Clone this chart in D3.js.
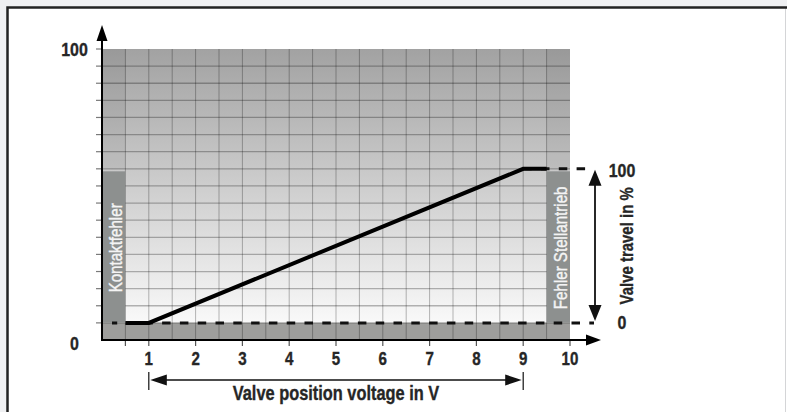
<!DOCTYPE html>
<html>
<head>
<meta charset="utf-8">
<script src="https://cdn.jsdelivr.net/npm/d3@7/dist/d3.min.js"></script>
<style>
  html, body { margin: 0; padding: 0; background: #eff0f2; }
  svg { display: block; }
  text { font-family: 'Liberation Sans', Arial, sans-serif; }
</style>
</head>
<body>
<svg id="chart" width="787" height="412"></svg>
<script>
// Voltage axis (V) and its tick labels
const voltageTicks = [1, 2, 3, 4, 5, 6, 7, 8, 9, 10];
// Valve characteristic: control voltage (V) -> valve travel (%)
const curveVoltage = [0.5, 1, 9, 9.5];
const curveTravel = [0, 0, 100, 100];
// Left axis labels (chart scale, %)
const leftAxisLabels = [0, 100];
// Right-hand travel labels (%)
const travelLabels = [0, 100];
// Fault zones at both ends of the voltage range
const faultNames = ["Kontaktfehler", "Fehler Stellantrieb"];
const faultStartV = [0, 9.5];
const faultEndV = [0.5, 10];
// Control range shown by the lower arrow (V)
const controlRange = [1, 9];
// Axis titles
const xTitle = "Valve position voltage in V";
const yTitle = "Valve travel in %";

const svg = d3.select("#chart");
const W = 787, H = 412;
const NARROW = 0.84; // horizontal squeeze for a condensed type look

// condensed text helper: squeezes glyphs horizontally around the anchor point
function label(g, tx, ty, rot, str, opts) {
  const grp = g.append("g").attr("transform", `translate(${tx},${ty}) rotate(${rot}) scale(${NARROW},1)`);
  const fill = opts.fill || "#262626";
  return grp.append("text")
    .attr("x", 0).attr("y", 0)
    .attr("text-anchor", opts.anchor || "middle")
    .attr("font-weight", opts.weight || "bold")
    .attr("font-size", opts.size)
    .attr("fill", fill)
    .attr("stroke", fill)
    .attr("stroke-width", opts.stroke == null ? 0.35 : opts.stroke)
    .text(str);
}

// frame
svg.append("rect").attr("x", 7).attr("y", 7).attr("width", W - 7).attr("height", H - 7).attr("fill", "#ffffff");
svg.append("line").attr("x1", 785.5).attr("x2", 785.5).attr("y1", 7).attr("y2", H)
  .attr("stroke", "#d4d5d7").attr("stroke-width", 1);
svg.append("path").attr("d", `M7.5,${H} V7.5 H${W}`).attr("fill", "none")
  .attr("stroke", "#222").attr("stroke-width", 2.5);

// scales
const x = d3.scaleLinear().domain([0, 10]).range([102, 570]);
const gridSteps = 17;
const yLeft = d3.scaleLinear().domain([0, 100]).range([340, 49]);
const step = 100 / gridSteps;
const yTravel = d3.scaleLinear().domain([0, 100]).range([yLeft(step), yLeft(10 * step)]);

const defs = svg.append("defs");
const grad = defs.append("linearGradient").attr("id", "bgGrad")
  .attr("x1", 0).attr("x2", 0).attr("y1", 0).attr("y2", 1);
grad.append("stop").attr("offset", "0%").attr("stop-color", "#a2a2a2");
grad.append("stop").attr("offset", "100%").attr("stop-color", "#f9f9f9");

// plot background
svg.append("rect")
  .attr("x", x(0)).attr("y", yLeft(100))
  .attr("width", x(10) - x(0)).attr("height", yTravel(0) - yLeft(100))
  .attr("fill", "url(#bgGrad)");

// darker columns above the fault zones
faultStartV.forEach((v0, i) => {
  svg.append("rect")
    .attr("x", x(v0)).attr("y", yLeft(100))
    .attr("width", x(faultEndV[i]) - x(v0)).attr("height", yTravel(100) - yLeft(100))
    .attr("fill", "#000").attr("opacity", 0.05);
});

// bottom strip under 0 % travel
svg.append("rect")
  .attr("x", x(0)).attr("y", yTravel(0))
  .attr("width", x(10) - x(0)).attr("height", yLeft(0) - yTravel(0))
  .attr("fill", "#9e9e9c");

// grid
const gridG = svg.append("g").attr("stroke", "#000").attr("stroke-opacity", 0.28);
d3.range(1, gridSteps).forEach(k => {
  gridG.append("line").attr("x1", x(0)).attr("x2", x(10))
    .attr("y1", yLeft(k * step)).attr("y2", yLeft(k * step)).attr("stroke-width", 1.3);
});
d3.range(1, 20).forEach(k => {
  gridG.append("line").attr("x1", x(k / 2)).attr("x2", x(k / 2))
    .attr("y1", yLeft(100)).attr("y2", yLeft(0)).attr("stroke-width", 1);
});

// fault zones
faultStartV.forEach((v0, i) => {
  const x0 = x(v0), x1 = x(faultEndV[i]);
  svg.append("rect")
    .attr("x", x0).attr("y", yTravel(100) + 2.5)
    .attr("width", x1 - x0).attr("height", yTravel(0) - yTravel(100) - 2.5)
    .attr("fill", "#8d908f");
  label(svg, x1 - 3, (yTravel(0) + yTravel(100)) / 2 + 2, -90, faultNames[i],
    { size: 18, weight: "normal", fill: "#f4f4f4", stroke: 0.4 });
});

// left axis ticks
const tickG = svg.append("g").attr("stroke", "#7a7a7a").attr("stroke-width", 1.2);
d3.range(1, gridSteps + 1).forEach(k => {
  tickG.append("line").attr("x1", x(0) - 6).attr("x2", x(0))
    .attr("y1", yLeft(k * step)).attr("y2", yLeft(k * step));
});
// bottom axis ticks
const xTickG = svg.append("g").attr("stroke", "#555").attr("stroke-width", 1.2);
[0.5].concat(voltageTicks).forEach(v => {
  xTickG.append("line").attr("x1", x(v)).attr("x2", x(v))
    .attr("y1", yLeft(0)).attr("y2", yLeft(0) + 6);
});

// dashed reference lines at 0 % and 100 % travel
const arrowX = 595;
svg.append("line")
  .attr("x1", 112).attr("x2", arrowX - 1)
  .attr("y1", yTravel(0)).attr("y2", yTravel(0))
  .attr("stroke", "#111").attr("stroke-width", 3)
  .attr("stroke-dasharray", "8.5,9.3").attr("stroke-dashoffset", 3.3);
svg.append("line")
  .attr("x1", x(9)).attr("x2", arrowX - 1)
  .attr("y1", yTravel(100)).attr("y2", yTravel(100))
  .attr("stroke", "#111").attr("stroke-width", 3)
  .attr("stroke-dasharray", "8.5,9.3").attr("stroke-dashoffset", 0);

// characteristic curve
const line = d3.line().x(d => x(d[0])).y(d => yTravel(d[1]));
svg.append("path")
  .datum(curveVoltage.map((v, i) => [v, curveTravel[i]]))
  .attr("d", line)
  .attr("fill", "none").attr("stroke", "#000").attr("stroke-width", 4)
  .attr("stroke-linejoin", "miter");

// axes with arrowheads
svg.append("line").attr("x1", x(0)).attr("x2", x(0)).attr("y1", yLeft(0) + 1).attr("y2", 36)
  .attr("stroke", "#000").attr("stroke-width", 2);
svg.append("path").attr("d", `M${x(0)},25 L${x(0) - 5.5},41 L${x(0) + 5.5},41 Z`).attr("fill", "#000");
svg.append("line").attr("x1", x(0)).attr("x2", 590).attr("y1", yLeft(0)).attr("y2", yLeft(0))
  .attr("stroke", "#000").attr("stroke-width", 2);
svg.append("path").attr("d", `M601,${yLeft(0)} L586,${yLeft(0) - 5.5} L586,${yLeft(0) + 5.5} Z`).attr("fill", "#000");

// travel range arrow (right)
const yT0 = yTravel(0) - 2, yT1 = yTravel(100) + 1;
svg.append("line").attr("x1", arrowX).attr("x2", arrowX).attr("y1", yT1 + 8).attr("y2", yT0 - 8)
  .attr("stroke", "#111").attr("stroke-width", 1.8);
svg.append("path").attr("d", `M${arrowX},${yT1} L${arrowX - 6.5},${yT1 + 16} L${arrowX + 6.5},${yT1 + 16} Z`).attr("fill", "#111");
svg.append("path").attr("d", `M${arrowX},${yT0} L${arrowX - 6.5},${yT0 - 16} L${arrowX + 6.5},${yT0 - 16} Z`).attr("fill", "#111");

// control range arrow (bottom)
const ay = 380;
const cx0 = x(controlRange[0]), cx1 = x(controlRange[1]);
svg.append("line").attr("x1", cx0 + 8).attr("x2", cx1 - 8).attr("y1", ay).attr("y2", ay)
  .attr("stroke", "#111").attr("stroke-width", 1.5);
svg.append("path").attr("d", `M${cx0 + 1.5},${ay} L${cx0 + 18},${ay - 5.5} L${cx0 + 18},${ay + 5.5} Z`).attr("fill", "#111");
svg.append("path").attr("d", `M${cx1 - 1.5},${ay} L${cx1 - 18},${ay - 5.5} L${cx1 - 18},${ay + 5.5} Z`).attr("fill", "#111");
[cx0, cx1].forEach(cx => {
  svg.append("line").attr("x1", cx).attr("x2", cx).attr("y1", ay - 8).attr("y2", ay + 10)
    .attr("stroke", "#111").attr("stroke-width", 1.2);
});

// tick and axis labels
const labels = svg.append("g");
voltageTicks.forEach(v => label(labels, x(v), 365, 0, String(v), { size: 18 }));
leftAxisLabels.forEach(v => label(labels, 74.5, yLeft(v) + 6.5 + (v === 0 ? 3 : 0), 0, String(v), { size: 19 }));
travelLabels.forEach(v => label(labels, 622, yTravel(v) + 6.5 + (v === 100 ? 2 : 0), 0, String(v), { size: 19 }));
label(labels, (cx0 + cx1) / 2, 399.5, 0, xTitle, { size: 19.5 });
label(labels, 632.5, (yTravel(0) + yTravel(100)) / 2, -90, yTitle, { size: 17.8 });
</script>
</body>
</html>
